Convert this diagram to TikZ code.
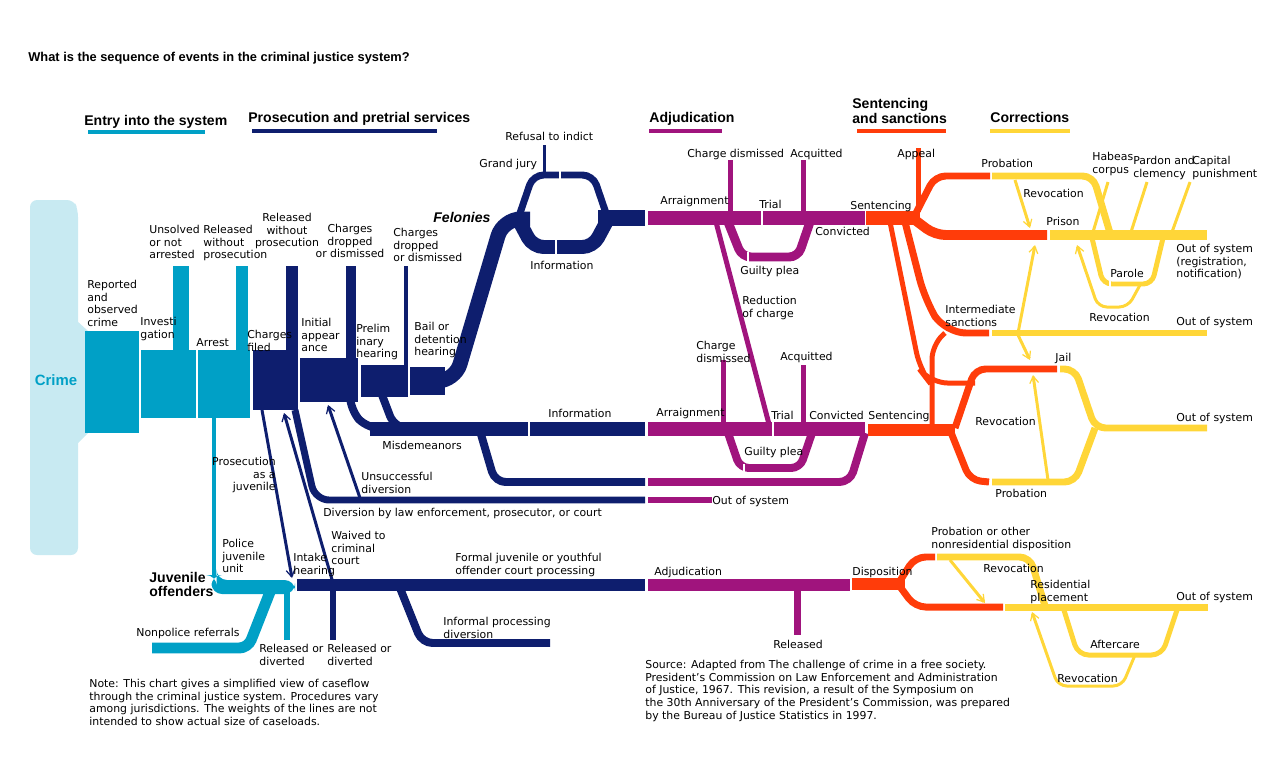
\documentclass[tikz,border=0pt]{standalone}
\usepackage{fontspec}
\setmainfont{DejaVu Sans}
\newfontfamily\hd{Liberation Sans}
\usetikzlibrary{arrows.meta}
\definecolor{cy}{RGB}{0,160,198}
\definecolor{nv}{RGB}{14,30,110}
\definecolor{mg}{RGB}{160,20,125}
\definecolor{og}{RGB}{255,60,10}
\definecolor{yl}{RGB}{255,214,56}
\definecolor{lcy}{RGB}{200,234,242}
\begin{document}
\begin{tikzpicture}[x=0.02cm,y=-0.02cm,
 p/.style={line width=#1*0.5669pt},
 ar/.style={-{Straight Barb[length=4pt,width=5pt,line width=0.7pt]}},
 lb/.style={font=\fontsize{6.2}{7.2}\selectfont,inner sep=0pt,align=left,anchor=north west},
 lc/.style={lb,align=center,anchor=north},
 hh/.style={font=\hd\bfseries\fontsize{8}{8.5}\selectfont,inner sep=0pt,anchor=base west,align=left},
 sep/.style={white,line width=1pt}]
\useasboundingbox (0,0) rectangle (1280,778);
% Crime panel
\fill[lcy,rounded corners=4pt] (30,200)--(74,200)--(78,210)--(78,555)--(30,555)--cycle;
\fill[lcy] (76,320)--(88,331)--(88,433)--(76,445)--cycle;
\node[font=\hd\bfseries\fontsize{8.5}{9}\selectfont,text=cy] (crime) at (56,380) {Crime};
% titles
\node[hh,font=\hd\bfseries\fontsize{7.3}{8}\selectfont] (title) at (28,61) {What is the sequence of events in the criminal justice system?};
\node[hh] (h1) at (84,125) {Entry into the system};
\fill[cy] (88,130) rectangle (205,134);
\node[hh] (h2) at (248,122) {Prosecution and pretrial services};
\fill[nv] (252,129) rectangle (437,133);
\node[hh] (h3) at (649,122) {Adjudication};
\fill[mg] (649,129) rectangle (722,133);
\node[hh,align=left,anchor=north west] (h4) at (852,98) {Sentencing\\and sanctions};
\fill[og] (857,129) rectangle (946,133);
\node[hh] (h5) at (990,122) {Corrections};
\fill[yl] (990,129) rectangle (1070,133);
% ---- cyan
\fill[cy] (85,331) rectangle (139,433);
\fill[cy] (141,350) rectangle (250,418);
\draw[cy,p=16] (181,266)--(181,352);
\draw[cy,p=12] (242,266)--(242,352);
\draw[sep] (197,350)--(197,418);
\draw[cy,p=5] (214,418)--(214,577);
\fill[cy,rounded corners=6pt] (211.5,575)--(211.5,594)--(295,594)--(295,580)--(216.5,580)--(216.5,575)--cycle;
\draw[cy,p=11,rounded corners=5pt] (152,648)--(248,648)--(270,592);
\draw[cy,p=6] (287,592)--(287,640);
% ---- navy
\fill[nv] (253,350) rectangle (298,410);
\draw[nv,p=12] (292,266)--(292,352);
\fill[nv] (300,358) rectangle (358,402);
\draw[nv,p=10] (351,266)--(351,360);
\fill[nv] (361,365) rectangle (408,397);
\draw[nv,p=5] (406,266)--(406,367);
\fill[nv] (410,367) rectangle (445,395);
\draw[nv,p=15,rounded corners=10pt] (430,381)--(455,381)--(503,219)--(530,219);
\draw[nv,p=7,rounded corners=6pt] (518,219)--(533,175)--(593,175)--(608,219);
\draw[nv,p=14,rounded corners=6pt] (518,219)--(533,247)--(593,247)--(608,219);
\draw[nv,p=3] (544,145)--(544,174);
\draw[sep] (560,170)--(560,180) (556,240)--(556,254);
\draw[nv,p=16] (598,218)--(645,218);
% felony adjudication
\draw[mg,p=14] (648,218)--(865,218);
\draw[sep] (762,211)--(762,225);
\draw[mg,p=5] (730,160)--(730,215);
\draw[mg,p=5] (803,160)--(803,215);
\draw[mg,p=9,rounded corners=5pt] (728,222)--(742,257)--(798,257)--(810,222);
\draw[sep] (748,252)--(748,262);
\draw[mg,p=5] (716,222)--(770,428);
% misdemeanors
\draw[nv,p=8,rounded corners=8pt] (350,400)--(350,410)--(368,429)--(400,429);
\draw[nv,p=8,rounded corners=8pt] (382,395)--(395,429)--(420,429);
\draw[nv,p=14] (370,429)--(645,429);
\draw[sep] (529,422)--(529,436);
\draw[nv,p=8,rounded corners=6pt] (480,431)--(495,482)--(645,482);
\draw[mg,p=8,rounded corners=6pt] (648,482)--(850,482)--(865,433);
\draw[mg,p=14] (648,429)--(865,429);
\draw[sep] (773,422)--(773,436);
\draw[mg,p=5] (723,360)--(723,427);
\draw[mg,p=5] (803,365)--(803,427);
\draw[mg,p=8,rounded corners=5pt] (728,433)--(740,468)--(800,468)--(812,433);
\draw[sep] (744,464)--(744,472);
% diversion
\draw[nv,p=7,rounded corners=8pt] (295,410)--(315,500)--(645,500);
\draw[mg,p=7] (648,500)--(712,500);
\draw[nv,p=3,ar] (262,410)--(292,578);
\draw[nv,p=3,ar] (333,583)--(284,413);
\draw[nv,p=3,ar] (360,498)--(328,405);
% juvenile
\draw[nv,p=12] (297,585)--(645,585);
\draw[nv,p=6] (333,585)--(333,640);
\draw[nv,p=8,rounded corners=6pt] (400,588)--(422,643)--(550,643);
\draw[mg,p=12] (648,585)--(850,585);
\draw[mg,p=7] (797,585)--(797,635);
\draw[og,p=12] (852,584)--(905,584);
\draw[og,p=7,rounded corners=6pt] (898,584)--(915,557)--(935,557);
\draw[og,p=7,rounded corners=6pt] (898,584)--(915,607)--(1003,607);
\draw[yl,p=7,rounded corners=6pt] (937,557)--(1030,557)--(1045,606);
\draw[yl,p=7] (1005,607)--(1208,607);
\draw[yl,p=3,ar] (950,560)--(985,603);
\draw[yl,p=5,rounded corners=6pt] (1063,607)--(1078,655)--(1162,655)--(1178,607);
\draw[yl,p=3,rounded corners=5pt,ar] (1135,655)--(1122,686)--(1058,686)--(1032,612);
% sentencing felony
\draw[og,p=14] (866,218)--(920,218);
\draw[og,p=5] (918,148)--(918,212);
\draw[og,p=7,rounded corners=6pt] (915,215)--(935,176)--(990,176);
\draw[og,p=10,rounded corners=6pt] (915,220)--(935,235)--(1047,235);
\draw[yl,p=7,rounded corners=6pt] (992,176)--(1093,176)--(1110,233);
\draw[yl,p=10] (1050,235)--(1207,235);
\draw[yl,p=3,ar] (1015,180)--(1030,228);
\draw[yl,p=3] (1108,182)--(1093,232) (1147,182)--(1131,232) (1190,182)--(1172,232);
\draw[yl,p=5,rounded corners=5pt] (1092,238)--(1103,284)--(1152,284)--(1163,238);
\draw[sep] (1110,280)--(1110,288);
\draw[yl,p=3,rounded corners=5pt,ar] (1140,285)--(1128,307)--(1098,307)--(1077,245);
\draw[og,p=7,rounded corners=12pt] (905,222)--(925,300)--(945,333)--(989,333);
\draw[yl,p=7] (992,333)--(1207,333);
\draw[yl,p=3,ar] (1018,333)--(1035,245);
\draw[yl,p=3,ar] (1018,335)--(1030,360);
\draw[og,p=5,rounded corners=10pt] (890,222)--(920,370)--(930,383)--(975,383);
\draw[og,p=7,rounded corners=6pt] (955,428)--(975,369)--(1057,369);
\draw[yl,p=7,rounded corners=6pt] (1060,369)--(1075,369)--(1095,428)--(1207,428);
\draw[yl,p=7,rounded corners=6pt] (992,482)--(1075,482)--(1095,428);
\draw[og,p=12] (868,430)--(955,430);
\draw[og,p=5,rounded corners=8pt] (932,428)--(932,345)--(945,333);
\draw[og,p=7,rounded corners=6pt] (950,430)--(970,480)--(989,482);
\draw[yl,p=3,ar] (1048,480)--(1033,375);
% ---- labels
\node[lb] (l1) at (87,280) {Reported\\and\\observed\\crime};
\node[lb] (l2) at (140,317) {Investi\\gation};
\node[lb] (l3) at (149,225) {Unsolved\\or not\\arrested};
\node[lb] (l4) at (203,225) {Released\\without\\prosecution};
\node[lc] (l5) at (287,213) {Released\\without\\prosecution};
\node[lc] (l6) at (350,224) {Charges\\dropped\\or dismissed};
\node[lb] (l7) at (393,228) {Charges\\dropped\\or dismissed};
\node[lb] (l8) at (196,338) {Arrest};
\node[lb] (l9) at (247,330) {Charges\\filed};
\node[lb] (l10) at (301,318) {Initial\\appear\\ance};
\node[lb] (l11) at (356,324) {Prelim\\inary\\hearing};
\node[lb] (l12) at (414,322) {Bail or\\detention\\hearing};
\node[lb,font=\hd\bfseries\itshape\fontsize{8}{9}\selectfont] (l13) at (433,212) {Felonies};
\node[lb] (l14) at (505,132) {Refusal to indict};
\node[lb] (l15) at (479,159) {Grand jury};
\node[lb] (l16) at (530,261) {Information};
\node[lb] (l17) at (687,149) {Charge dismissed};
\node[lb] (l18) at (790,149) {Acquitted};
\node[lb] (l19) at (660,196) {Arraignment};
\node[lb] (l20) at (759,200) {Trial};
\node[lb] (l21) at (815,227) {Convicted};
\node[lb] (l22) at (850,201) {Sentencing};
\node[lb] (l23) at (740,266) {Guilty plea};
\node[lb] (l24) at (742,296) {Reduction\\of charge};
\node[lb] (l25) at (696,341) {Charge\\dismissed};
\node[lb] (l26) at (780,352) {Acquitted};
\node[lb] (l27) at (548,409) {Information};
\node[lb] (l28) at (656,408) {Arraignment};
\node[lb] (l29) at (771,411) {Trial};
\node[lb] (l30) at (809,411) {Convicted};
\node[lb] (l31) at (868,411) {Sentencing};
\node[lb] (l32) at (744,447) {Guilty plea};
\node[lb] (l33) at (382,441) {Misdemeanors};
\node[lb] (l34) at (361,472) {Unsuccessful\\diversion};
\node[lb] (l35) at (323,508) {Diversion by law enforcement, prosecutor, or court};
\node[lb] (l36) at (712,496) {Out of system};
\node[lb,align=right,anchor=north east] (l37) at (276,457) {Prosecution\\as a\\juvenile};
\node[lb] (l38) at (222,539) {Police\\juvenile\\unit};
\node[lb] (l39) at (293,553) {Intake\\hearing};
\node[lb] (l40) at (331,531) {Waived to\\criminal\\court};
\node[lb,font=\hd\bfseries\fontsize{8}{8}\selectfont] (l41) at (149,572) {Juvenile\\offenders};
\node[lb] (l42) at (136,628) {Nonpolice referrals};
\node[lb] (l43) at (259,644) {Released or\\diverted};
\node[lb] (l44) at (327,644) {Released or\\diverted};
\node[lb] (l45) at (455,553) {Formal juvenile or youthful\\offender court processing};
\node[lb] (l46) at (443,617) {Informal processing\\diversion};
\node[lb] (l47) at (654,567) {Adjudication};
\node[lb] (l48) at (773,640) {Released};
\node[lb] (l49) at (852,567) {Disposition};
\node[lb] (l50) at (931,527) {Probation or other\\nonresidential disposition};
\node[lb] (l51) at (983,564) {Revocation};
\node[lb] (l52) at (1030,580) {Residential\\placement};
\node[lb] (l53) at (1176,592) {Out of system};
\node[lb] (l54) at (1090,640) {Aftercare};
\node[lb] (l55) at (1057,674) {Revocation};
\node[lb] (l56) at (897,149) {Appeal};
\node[lb] (l57) at (981,159) {Probation};
\node[lb] (l58) at (1023,189) {Revocation};
\node[lb] (l59) at (1092,152) {Habeas\\corpus};
\node[lb] (l60) at (1133,156) {Pardon and\\clemency};
\node[lb] (l61) at (1192,156) {Capital\\punishment};
\node[lb] (l62) at (1046,217) {Prison};
\node[lb] (l63) at (1176,244) {Out of system\\(registration,\\notification)};
\node[lb] (l64) at (1110,269) {Parole};
\node[lb] (l65) at (1089,313) {Revocation};
\node[lb] (l66) at (1176,317) {Out of system};
\node[lb] (l67) at (945,305) {Intermediate\\sanctions};
\node[lb] (l68) at (1055,353) {Jail};
\node[lb] (l69) at (975,417) {Revocation};
\node[lb] (l70) at (1176,413) {Out of system};
\node[lb] (l71) at (995,489) {Probation};
\node[lb] (note) at (89,679) {Note: This chart gives a simplified view of caseflow\\through the criminal justice system. Procedures vary\\among jurisdictions. The weights of the lines are not\\intended to show actual size of caseloads.};
\node[lb] (src) at (645,660) {Source: Adapted from The challenge of crime in a free society.\\President's Commission on Law Enforcement and Administration\\of Justice, 1967. This revision, a result of the Symposium on\\the 30th Anniversary of the President's Commission, was prepared\\by the Bureau of Justice Statistics in 1997.};
\end{tikzpicture}
\end{document}
